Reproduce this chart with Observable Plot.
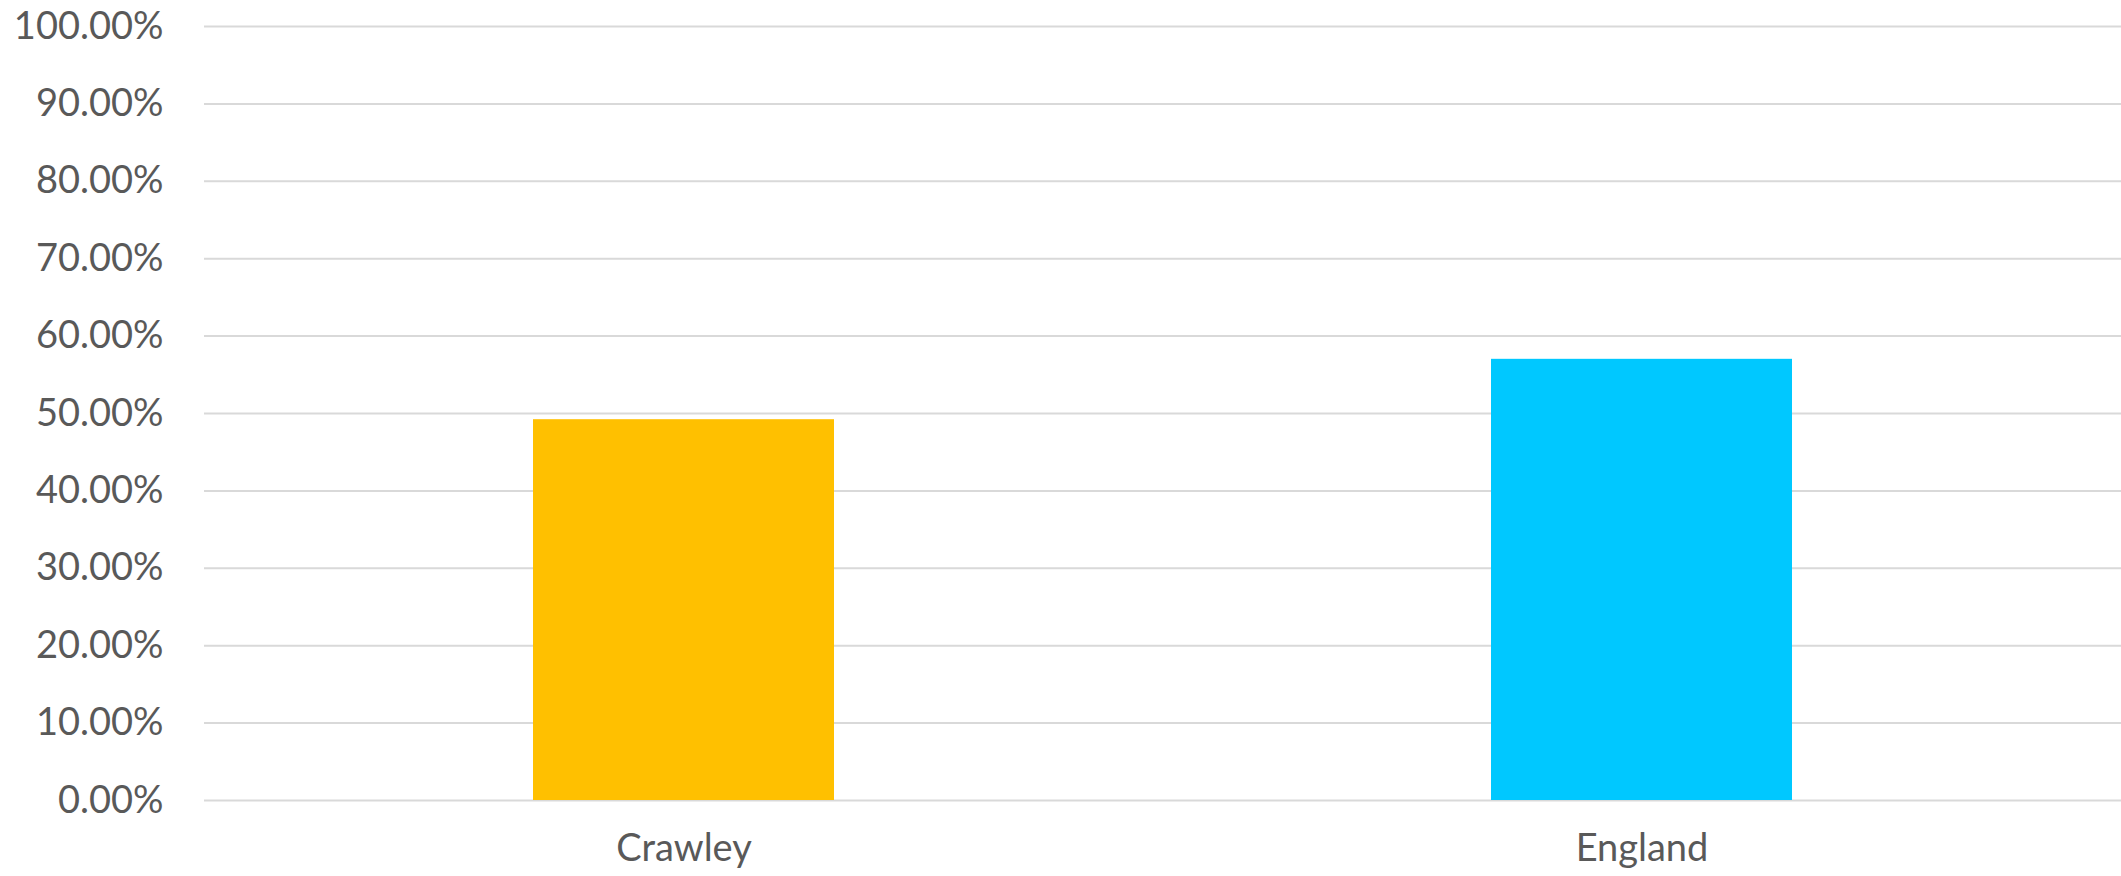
<!DOCTYPE html>
<html>
<head>
<meta charset="utf-8">
<script src="https://cdn.jsdelivr.net/npm/d3@7"></script>
<script src="https://cdn.jsdelivr.net/npm/@observablehq/plot@0.6"></script>
<style>
  html, body { margin: 0; padding: 0; background: #fff; }
  #chart svg { display: block; }
</style>
</head>
<body>
<div id="chart"></div>
<script>
const categories = ["Crawley", "England"];
const values = [0.492, 0.570];
const barColors = ["#FFC000", "#00C8FF"];
const yTicks = [0, 0.1, 0.2, 0.3, 0.4, 0.5, 0.6, 0.7, 0.8, 0.9, 1.0];

const data = categories.map((c, i) => ({category: c, value: values[i], color: barColors[i]}));

const chart = Plot.plot({
  width: 2121,
  height: 876,
  marginLeft: 204,
  marginRight: 0,
  marginTop: 26,
  marginBottom: 76,
  style: {fontFamily: "Lato, 'Open Sans', sans-serif", fontSize: "38px", color: "#595959", background: "#fff"},
  x: {domain: categories, paddingInner: 0.686, paddingOuter: 0.343, label: null},
  y: {domain: [0, 1], label: null},
  marks: [
    Plot.ruleY(yTicks, {stroke: "#d9d9d9", strokeWidth: 2}),
    Plot.barY(data, {x: "category", y: "value", fill: "color"}),
    Plot.axisY({ticks: yTicks, tickFormat: d3.format(".2%"), tickSize: 0, tickPadding: 41, fontSize: 38, fill: "#595959", label: null}),
    Plot.axisX({tickSize: 0, tickPadding: 34, fontSize: 38, fill: "#595959", label: null})
  ]
});
document.getElementById("chart").appendChild(chart);
</script>
</body>
</html>
